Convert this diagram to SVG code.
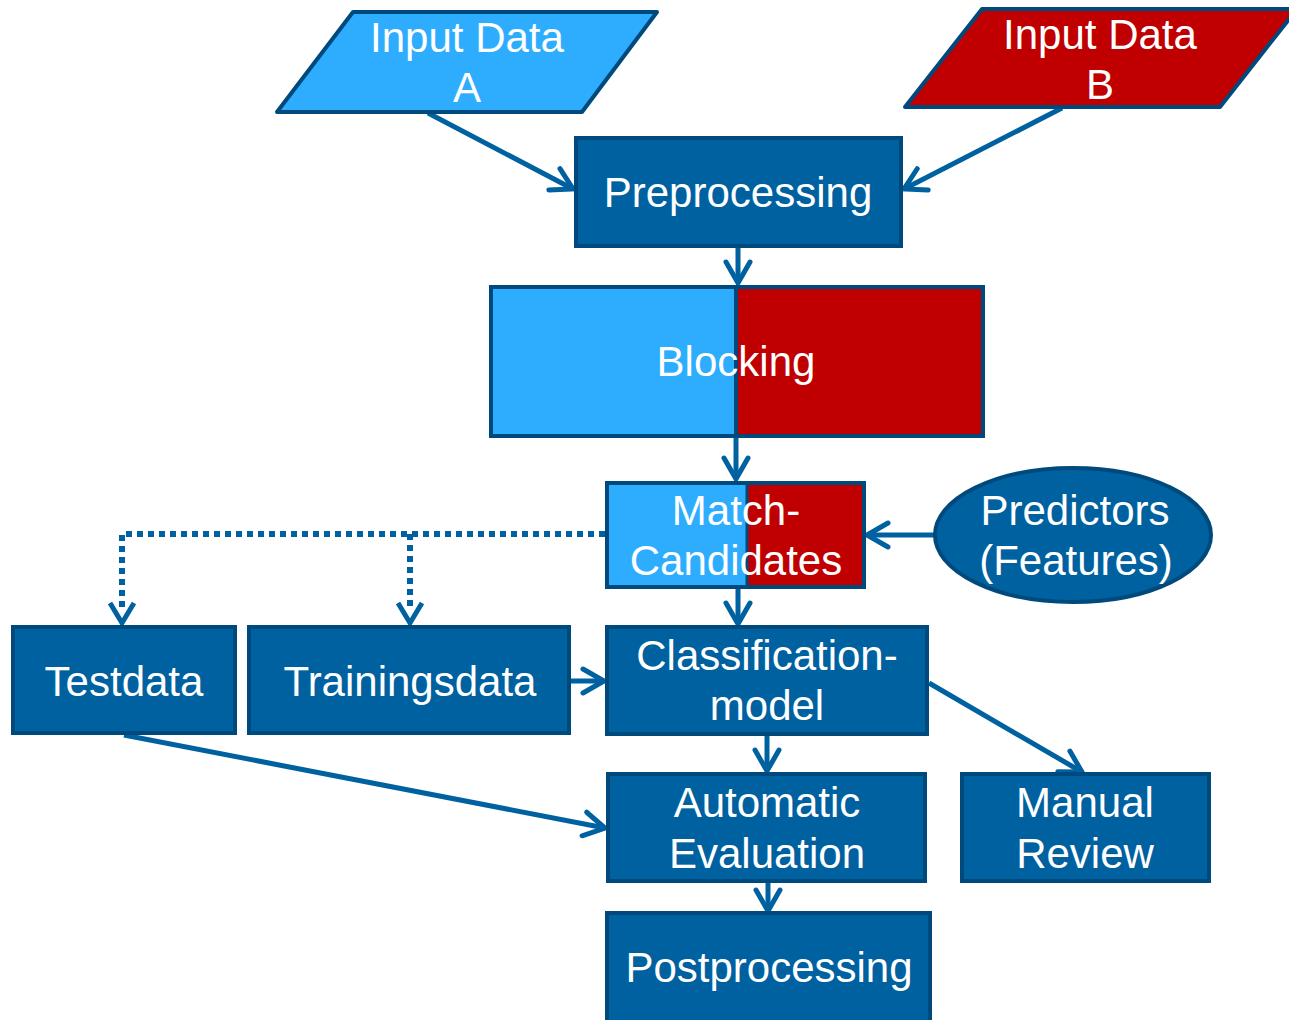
<svg xmlns="http://www.w3.org/2000/svg" width="1289" height="1020" viewBox="0 0 1289 1020">
  <style>
    .box { fill: #0061A0; stroke: #00497C; stroke-width: 4; }
    .lb { fill: #2EADFF; }
    .rd { fill: #C00000; }
    .edge { fill: none; stroke: #00497C; stroke-width: 4; }
    .lbl { font-family: "Liberation Sans", Arial, sans-serif; font-size: 42px; fill: #FFFFFF; text-anchor: middle; }
    .conn { fill: none; stroke: #0061A0; stroke-width: 5; }
    .dot { fill: none; stroke: #0061A0; stroke-width: 6; stroke-dasharray: 6 5; }
  </style>
  <defs>
    <marker id="arrow" markerUnits="userSpaceOnUse" markerWidth="40" markerHeight="40" viewBox="-30 -20 40 40" refX="0" refY="0" orient="auto" overflow="visible">
      <path d="M-21,-12 L0,0 L-21,12" fill="none" stroke="#0061A0" stroke-width="5" stroke-linecap="round" stroke-linejoin="miter"/>
    </marker>
  </defs>

  <g id="connectors">
    <line class="conn" x1="428" y1="113" x2="573" y2="189" marker-end="url(#arrow)"/>
    <line class="conn" x1="1062" y1="108" x2="904" y2="189" marker-end="url(#arrow)"/>
    <line class="conn" x1="738" y1="248" x2="738" y2="283" marker-end="url(#arrow)"/>
    <line class="conn" x1="736" y1="438" x2="736" y2="479" marker-end="url(#arrow)"/>
    <line class="conn" x1="935" y1="535" x2="867" y2="535" marker-end="url(#arrow)"/>
    <polyline class="dot" points="605,534 122,534 122,610"/>
    <line class="dot" x1="410" y1="534" x2="410" y2="610"/>
    <path class="conn" d="M110,603 L122,623 L134,603"/>
    <path class="conn" d="M398,603 L410,623 L422,603"/>
    <line class="conn" x1="738" y1="589" x2="738" y2="624" marker-end="url(#arrow)"/>
    <line class="conn" x1="571" y1="681" x2="604" y2="681" marker-end="url(#arrow)"/>
    <line class="conn" x1="767" y1="736" x2="767" y2="771" marker-end="url(#arrow)"/>
    <line class="conn" x1="929" y1="683" x2="1082" y2="772" marker-end="url(#arrow)"/>
    <line class="conn" x1="124" y1="735" x2="605" y2="828" marker-end="url(#arrow)"/>
    <line class="conn" x1="768" y1="883" x2="768" y2="911" marker-end="url(#arrow)"/>
  </g>

  <g id="input-a">
    <polygon class="lb" points="353,12 657,12 582,112 277,112" stroke="#00497C" stroke-width="4" stroke-linejoin="round"/>
    <text class="lbl" x="467" y="52">Input Data</text>
    <text class="lbl" x="467" y="102">A</text>
  </g>

  <g id="input-b">
    <polygon class="rd" points="982,9 1297,9 1220,107 905,107" stroke="#00497C" stroke-width="4" stroke-linejoin="round"/>
    <text class="lbl" x="1100" y="49">Input Data</text>
    <text class="lbl" x="1100" y="99">B</text>
  </g>

  <g id="preprocessing">
    <rect class="box" x="576" y="138" width="325" height="108"/>
    <text class="lbl" x="738" y="207">Preprocessing</text>
  </g>

  <g id="blocking">
    <rect class="lb" x="491" y="287" width="245" height="149"/>
    <rect class="rd" x="736" y="287" width="247" height="149"/>
    <rect class="edge" x="491" y="287" width="492" height="149"/>
    <line class="edge" x1="736" y1="287" x2="736" y2="436"/>
    <text class="lbl" x="736" y="376">Blocking</text>
  </g>

  <g id="match-candidates">
    <rect class="lb" x="607" y="483" width="140" height="104"/>
    <rect class="rd" x="747" y="483" width="117" height="104"/>
    <rect class="edge" x="607" y="483" width="257" height="104"/>
    <line x1="747" y1="483" x2="747" y2="587" stroke="#00497C" stroke-width="3"/>
    <text class="lbl" x="736" y="525">Match-</text>
    <text class="lbl" x="736" y="575">Candidates</text>
  </g>

  <g id="predictors">
    <ellipse class="box" cx="1073" cy="535" rx="138" ry="67"/>
    <text class="lbl" x="1075" y="525">Predictors</text>
    <text class="lbl" x="1076" y="575">(Features)</text>
  </g>

  <g id="testdata">
    <rect class="box" x="13" y="627" width="222" height="106"/>
    <text class="lbl" x="124" y="696">Testdata</text>
  </g>

  <g id="trainingsdata">
    <rect class="box" x="249" y="627" width="320" height="106"/>
    <text class="lbl" x="410" y="696">Trainingsdata</text>
  </g>

  <g id="classification-model">
    <rect class="box" x="607" y="627" width="320" height="107"/>
    <text class="lbl" x="767" y="670">Classification-</text>
    <text class="lbl" x="767" y="720">model</text>
  </g>

  <g id="automatic-evaluation">
    <rect class="box" x="608" y="774" width="317" height="107"/>
    <text class="lbl" x="767" y="817">Automatic</text>
    <text class="lbl" x="767" y="868">Evaluation</text>
  </g>

  <g id="manual-review">
    <rect class="box" x="962" y="774" width="247" height="107"/>
    <text class="lbl" x="1085" y="817">Manual</text>
    <text class="lbl" x="1085" y="868">Review</text>
  </g>

  <g id="postprocessing">
    <rect class="box" x="607" y="913" width="323" height="120"/>
    <text class="lbl" x="769" y="982">Postprocessing</text>
  </g>
</svg>
